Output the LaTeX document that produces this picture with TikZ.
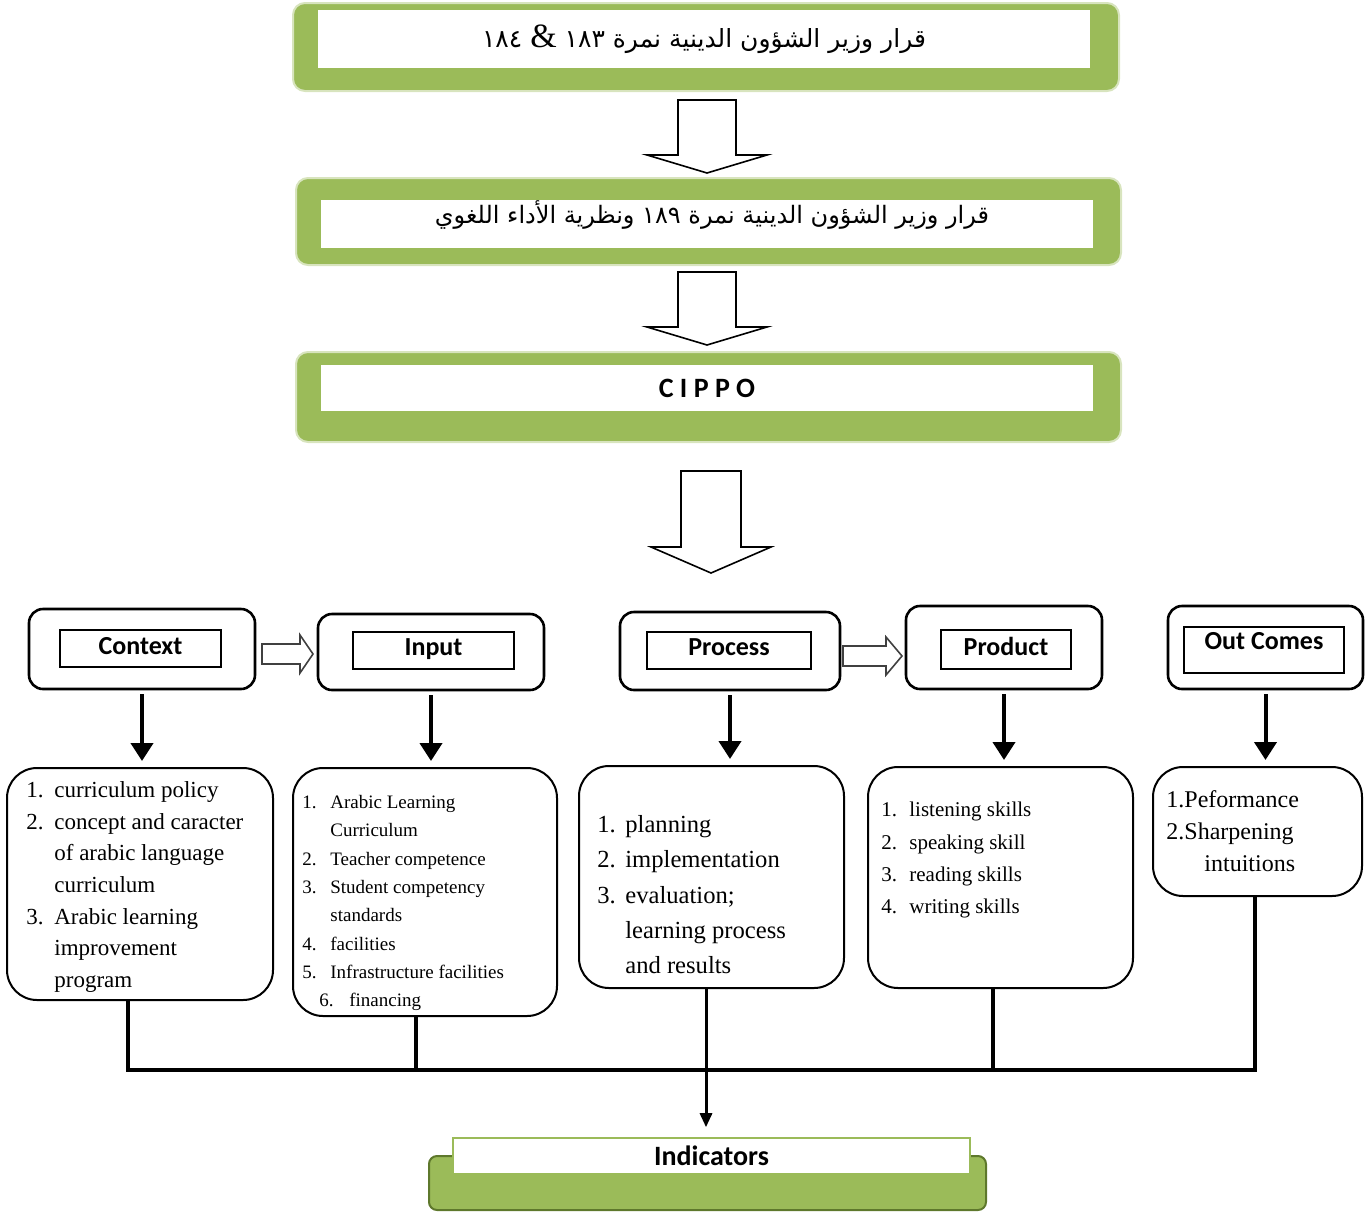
\documentclass[tikz,border=0pt]{standalone}
\usepackage{fontspec}
\setmainfont{Liberation Serif}
\newfontfamily\hdfont{Carlito}
\newfontfamily\arabicfont[Script=Arabic]{DejaVu Sans}
\TeXXeTstate=1
\usetikzlibrary{arrows.meta}
\definecolor{leaf}{RGB}{155,187,89}
\definecolor{leafrim}{RGB}{216,228,190}
\definecolor{leafdark}{RGB}{94,120,44}
\newcommand{\num}[1]{\makebox[14pt][l]{#1}}

\begin{document}
\begin{tikzpicture}[x=0.5pt,y=-0.5pt,
  greenbox/.style={draw=leafrim,line width=1pt,fill=leaf,rounded corners=6pt},
  whitebox/.style={fill=white,inner sep=0pt},
  headbox/.style={draw,line width=1.3pt,rounded corners=7pt,fill=white},
  labelbox/.style={draw,line width=1.1pt,inner sep=0pt,font=\hdfont\bfseries\fontsize{13}{15}\selectfont},
  listbox/.style={draw,line width=1pt,rounded corners=15pt},
  listtxt/.style={anchor=north west,align=left,inner sep=0pt},
  hollow/.style={draw,line width=0.8pt,fill=white,line join=miter},
  downarr/.style={line width=2pt,-{Triangle[width=11pt,length=9pt]},shorten <=2pt,shorten >=3pt},
  bus/.style={line width=1.75pt}]
\useasboundingbox (0,0) rectangle (1366,1211);

% decrees and model
\node[greenbox,minimum width=826*0.5pt,minimum height=88*0.5pt] (dec1) at (706,47) {};
\node[whitebox,minimum width=772*0.5pt,minimum height=58*0.5pt,font=\arabicfont\fontsize{12.5}{15}\selectfont] (dec1txt) at (704,39)
  {\beginR قرار وزير الشؤون الدينية نمرة \beginL١٨٣\endL{} {\rmfamily\fontsize{17}{17}\selectfont\&} \beginL١٨٤\endL\endR};
\node[greenbox,minimum width=825*0.5pt,minimum height=87*0.5pt] (dec2) at (708.5,221.5) {};
\node[whitebox,minimum width=772*0.5pt,minimum height=48*0.5pt] (dec2box) at (707,224) {};
\node[inner sep=0pt,font=\arabicfont\fontsize{12}{15}\selectfont] (dec2txt) at (712,215)
  {\beginR قرار وزير الشؤون الدينية نمرة \beginL١٨٩\endL{} ونظرية الأداء اللغوي\endR};
\node[greenbox,minimum width=825*0.5pt,minimum height=90*0.5pt] (cippo) at (708.5,397) {};
\node[whitebox,minimum width=772*0.5pt,minimum height=46*0.5pt,font=\hdfont\bfseries\fontsize{14}{16}\selectfont] (cippotxt) at (707,388) {C I P P O};

\foreach \x/\top/\base/\tip/\sw in {707/100/155/173/29,707/272/327/345/29,711/471/547/573/30}
  \draw[hollow] (\x-\sw,\top) -- (\x+\sw,\top) -- (\x+\sw,\base) -- (\x+60,\base) -- (\x,\tip) -- (\x-60,\base) -- (\x-\sw,\base) -- cycle;

% components
\foreach \n/\x/\y/\w/\h in {ctx/142/649/226/80,inp/431/652/226/76,proc/730/651/220/78,prod/1004/647.5/196/83,outc/1265.5/647.5/195/83}
  \node[headbox,minimum width=\w*0.5pt,minimum height=\h*0.5pt] (\n) at (\x,\y) {};
\foreach \n/\x/\y/\w/\h/\d/\t in {ctxl/140.5/648.5/161/37/3/Context,inpl/433.5/650.5/161/37/3/Input,procl/729/650.5/164/37/3/Process,prodl/1006/649.5/130/39/3/Product,outcl/1264/650/160/46/9/Out Comes}
  \node[labelbox,text depth=\d pt,minimum width=\w*0.5pt,minimum height=\h*0.5pt] (\n) at (\x,\y) {\t};

\foreach \x/\xh/\xt/\y in {262/300/313/654,843/886/902/656}
  \draw[hollow,draw=black!75] (\x,\y-10) -- (\xh,\y-10) -- (\xh,\y-19) -- (\xt,\y) -- (\xh,\y+19) -- (\xh,\y+10) -- (\x,\y+10) -- cycle;

\foreach \n/\x/\y/\w/\h in {ctxlist/140/884/266/232,inplist/425/892/264/248,proclist/711.5/877/265/222,prodlist/1000.5/877.5/265/221,outlist/1257.5/831.5/209/129}
  \node[listbox,minimum width=\w*0.5pt,minimum height=\h*0.5pt] (\n) at (\x,\y) {};

\foreach \h/\l in {ctx/ctxlist,inp/inplist,proc/proclist,prod/prodlist,outc/outlist}
  \draw[downarr] (\h.south) -- (\h.south |- \l.north);

\node[listtxt,font=\fontsize{11.5}{15.85}\selectfont] (ctxtxt) at (26,781)
  {\num{1.}curriculum policy\\ \num{2.}concept and caracter\\ \num{}of arabic language\\ \num{}curriculum\\
   \num{3.}Arabic learning\\ \num{}improvement\\ \num{}program};
\node[listtxt,font=\fontsize{9.5}{14.15}\selectfont] (inptxt) at (302,795)
  {\num{1.}Arabic Learning\\ \num{}Curriculum\\ \num{2.}Teacher competence\\ \num{3.}Student competency\\
   \num{}standards\\ \num{4.}facilities\\ \num{5.}Infrastructure facilities\\ \hspace*{8.5pt}\makebox[15pt][l]{6.}financing};
\node[listtxt,font=\fontsize{12.3}{17.65}\selectfont] (proctxt) at (597,815)
  {\num{1.}planning\\ \num{2.}implementation\\ \num{3.}evaluation;\\ \num{}learning process\\ \num{}and results};
\node[listtxt,font=\fontsize{10.5}{16.1}\selectfont] (prodtxt) at (881,802)
  {\num{1.}listening skills\\ \num{2.}speaking skill\\ \num{3.}reading skills\\ \num{4.}writing skills};
\node[listtxt,font=\fontsize{12}{16}\selectfont] (outtxt) at (1166,790)
  {1.Peformance\\ 2.Sharpening\\ \hspace*{19pt}intuitions};

% indicators
\node[draw=leafdark,line width=1pt,fill=leaf,rounded corners=4pt,minimum width=557*0.5pt,minimum height=54*0.5pt] (ind) at (707.5,1183) {};
\node[draw=leaf,line width=0.8pt,fill=white,inner sep=0pt,minimum width=517*0.5pt,minimum height=36*0.5pt,font=\hdfont\bfseries\fontsize{14}{16}\selectfont] (indtxt) at (711.5,1156) {Indicators};

\coordinate (tapA) at (128,1070);
\coordinate (tapB) at (416,1070);
\coordinate (tapC) at (706,1070);
\coordinate (tapD) at (993,1070);
\coordinate (tapE) at (1255,1070);
\draw[bus] (tapA |- ctxlist.south) -- (tapA) -- (tapE) -- (tapE |- outlist.south);
\draw[bus] (tapB |- inplist.south) -- (tapB);
\draw[bus] (tapD |- prodlist.south) -- (tapD);
\draw[line width=1.5pt,-{Triangle[width=6pt,length=7pt]},shorten >=5pt] (tapC |- proclist.south) -- (tapC |- indtxt.north);
\end{tikzpicture}
\end{document}
